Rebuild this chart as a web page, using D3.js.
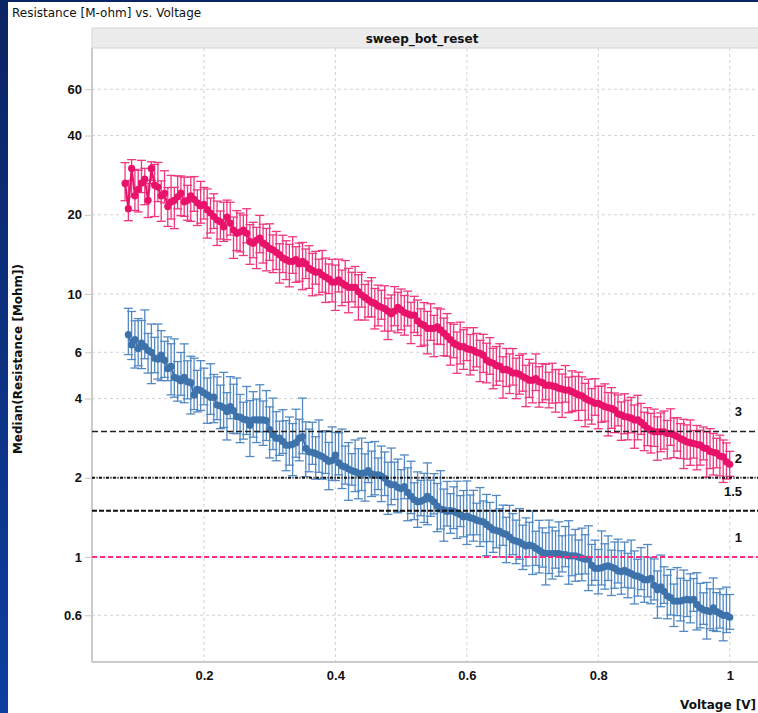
<!DOCTYPE html>
<html>
<head>
<meta charset="utf-8">
<script src="https://cdn.jsdelivr.net/npm/d3@7"></script>
<style>
  html, body { margin: 0; padding: 0; background: #fff; }
  svg { display: block; font-family: "Liberation Sans", Arial, sans-serif; }
</style>
</head>
<body>
<svg id="chart" width="758" height="713"></svg>
<script>
// sweep voltages [V]
const voltage = [
  0.08,0.085,0.09,0.095,0.1,0.105,0.11,0.115,0.12,0.125,
  0.13,0.135,0.14,0.145,0.15,0.155,0.16,0.165,0.17,0.175,
  0.18,0.185,0.19,0.195,0.2,0.205,0.21,0.215,0.22,0.225,
  0.23,0.235,0.24,0.245,0.25,0.255,0.26,0.265,0.27,0.275,
  0.28,0.285,0.29,0.295,0.3,0.305,0.31,0.315,0.32,0.325,
  0.33,0.335,0.34,0.345,0.35,0.355,0.36,0.365,0.37,0.375,
  0.38,0.385,0.39,0.395,0.4,0.405,0.41,0.415,0.42,0.425,
  0.43,0.435,0.44,0.445,0.45,0.455,0.46,0.465,0.47,0.475,
  0.48,0.485,0.49,0.495,0.5,0.505,0.51,0.515,0.52,0.525,
  0.53,0.535,0.54,0.545,0.55,0.555,0.56,0.565,0.57,0.575,
  0.58,0.585,0.59,0.595,0.6,0.605,0.61,0.615,0.62,0.625,
  0.63,0.635,0.64,0.645,0.65,0.655,0.66,0.665,0.67,0.675,
  0.68,0.685,0.69,0.695,0.7,0.705,0.71,0.715,0.72,0.725,
  0.73,0.735,0.74,0.745,0.75,0.755,0.76,0.765,0.77,0.775,
  0.78,0.785,0.79,0.795,0.8,0.805,0.81,0.815,0.82,0.825,
  0.83,0.835,0.84,0.845,0.85,0.855,0.86,0.865,0.87,0.875,
  0.88,0.885,0.89,0.895,0.9,0.905,0.91,0.915,0.92,0.925,
  0.93,0.935,0.94,0.945,0.95,0.955,0.96,0.965,0.97,0.975,
  0.98,0.985,0.99,0.995,1.0
];

// upper curve (pink), median resistance [Mohm], one per voltage
const highMedian = [
  26.3,21.1,30.0,23.6,25.0,26.4,27.3,22.7,30.0,25.9,
  25.5,23.6,24.1,21.5,22.4,22.7,23.4,24.2,22.4,22.7,
  23.6,22.9,22.2,21.6,
  21.9,20.9,20.3,19.7,19.1,18.8,18.0,19.6,18.6,17.5,
  17.0,17.2,17.5,17.0,15.8,15.6,16.0,16.3,15.6,15.3,
  14.9,14.7,14.4,14.1,13.7,13.5,13.3,13.3,13.5,13.0,
  13.3,13.0,12.5,12.3,12.1,12.1,11.8,11.6,11.4,11.1,
  11.1,11.3,11.0,10.8,10.6,10.6,10.6,10.2,9.9,9.7,
  9.5,9.3,9.2,9.0,8.9,8.8,8.6,8.4,8.6,8.9,
  8.7,8.5,8.4,8.3,8.3,7.9,7.7,7.6,7.4,7.4,
  7.4,7.5,7.3,7.1,6.9,6.7,6.5,6.4,6.3,6.3,
  6.2,6.15,6.1,6.0,5.95,5.85,5.6,5.5,5.45,5.35,
  5.3,5.15,5.17,5.1,5.0,5.0,4.95,4.85,4.78,4.7,
  4.7,4.77,4.64,4.6,4.5,4.5,4.47,4.44,4.38,4.35,
  4.31,4.31,4.25,4.19,4.13,4.1,4.01,3.95,3.9,3.84,
  3.84,3.78,3.73,3.7,3.67,3.62,3.5,3.47,3.42,3.4,
  3.37,3.32,3.32,3.25,3.17,3.08,3.03,2.99,2.99,2.99,
  2.99,2.95,2.95,2.91,2.87,2.82,2.78,2.74,2.72,2.70,
  2.68,2.66,2.6,2.58,2.52,2.50,2.48,2.42,2.40,2.30,2.25
];
// error bar extent above / below the median, in percent
const highErrUp = [
  20,28,8,26,18,22,10,16,6,20, 24,14,22,18,26,12,20,16,24,14,
  18,22,12,24,16,20,14,22,18,10, 24,16,20,12,22,18,14,24,16,20,
  12,22,18,16,24,14,20,10,22,18, 16,24,12,20,18,14,22,16,20,12,
  24,18,14,22,16,20,12,24,18,14, 20,16,22,12,18,24,14,20,16,22,
  12,18,24,14,20,16,22,12,18,20, 14,22,16,24,12,18,20,14,22,16,
  18,12,24,16,20,14,22,18,12,20, 16,24,14,18,22,12,20,16,24,14,
  18,22,12,20,16,24,14,18,20,12, 22,16,18,14,24,12,20,16,22,18,
  14,20,12,24,16,18,22,14,20,16, 18,12,22,16,20,14,24,18,12,20,
  16,22,14,18,20,12,24,16,18,14, 20,16,22,12,18,14,20,16,22,18,
  14,20,16,18,12
];
const highErrDn = [
  14,10,22,12,18,8,20,14,10,24, 12,20,8,16,14,22,10,18,12,16,
  20,10,18,14,12,22,16,10,20,14, 12,18,10,22,14,16,20,8,18,12,
  22,12,16,20,10,18,14,22,12,16, 20,10,18,14,22,12,16,20,10,18,
  14,20,12,16,22,10,18,14,20,12, 16,22,10,18,14,12,20,16,10,18,
  22,14,12,20,16,18,10,22,14,12, 18,16,20,10,22,14,12,18,16,20,
  12,22,14,18,10,20,16,12,22,14, 18,10,20,16,12,22,14,18,10,20,
  16,12,22,14,18,10,20,16,12,18, 14,20,12,22,10,18,16,14,20,12,
  22,16,18,10,20,14,12,22,16,18, 10,20,14,18,12,22,16,10,20,14,
  18,12,22,16,14,20,10,18,12,16, 22,14,18,12,20,16,10,22,14,18,
  12,16,20,14,10
];

// lower curve (blue), starts at the second voltage (0.085 V)
const lowMedian = [
  7.0,6.4,6.7,6.2,6.5,6.3,6.1,6.0,5.7,5.65,
  5.85,5.6,5.2,5.3,4.82,4.77,4.68,4.82,4.64,4.6,
  4.13,4.34,4.29,4.21,4.13,4.05,4.05,3.78,3.75,3.7,
  3.57,3.73,3.6,3.42,3.4,3.34,3.32,3.17,3.32,3.32,
  3.32,3.32,3.30,3.05,2.91,2.83,2.83,2.75,2.66,2.66,
  2.68,2.72,2.83,2.87,2.59,2.51,2.50,2.47,2.44,2.41,
  2.36,2.31,2.33,2.44,2.28,2.22,2.20,2.16,2.13,2.11,
  2.08,2.08,2.09,2.13,2.07,2.05,2.05,2.03,1.99,1.91,
  1.88,1.88,1.84,1.82,1.85,1.76,1.70,1.65,1.62,1.63,
  1.65,1.70,1.66,1.62,1.56,1.52,1.51,1.49,1.50,1.49,
  1.47,1.45,1.42,1.43,1.41,1.40,1.38,1.37,1.36,1.33,
  1.30,1.27,1.26,1.25,1.23,1.22,1.19,1.16,1.15,1.14,
  1.12,1.10,1.11,1.10,1.08,1.06,1.04,1.03,1.03,1.03,
  1.03,1.03,1.02,1.02,1.01,1.01,1.01,1.00,0.99,0.98,
  0.98,0.93,0.905,0.905,0.91,0.92,0.925,0.915,0.905,0.885,
  0.88,0.89,0.875,0.865,0.85,0.845,0.835,0.82,0.82,0.83,
  0.78,0.75,0.77,0.74,0.71,0.70,0.68,0.68,0.68,0.686,
  0.69,0.685,0.69,0.66,0.64,0.63,0.625,0.62,0.64,0.62,
  0.61,0.60,0.60,0.59
];
const lowErrUp = [
  26,34,18,30,22,38,16,28,20,36, 24,18,32,22,40,16,28,34,20,26,
  38,18,30,24,16,34,22,28,20,36, 18,30,26,40,22,16,34,24,28,20,
  36,18,30,22,38,26,16,32,24,28, 20,34,18,40,26,22,30,16,36,24,
  28,18,34,22,30,38,20,26,16,32, 24,36,18,28,22,34,16,30,26,20,
  38,22,28,18,32,24,36,16,30,20, 26,34,18,28,22,40,20,30,16,24,
  32,18,26,36,22,28,16,34,20,30, 24,18,36,22,28,16,32,26,20,34,
  18,28,22,36,16,30,24,20,34,26, 22,32,18,28,36,20,26,16,30,24,
  34,20,28,18,38,22,30,16,26,32, 20,28,18,34,24,16,30,22,36,20,
  26,18,32,24,20,28,16,34,22,30, 18,26,20,32,24,16,28,22,30,18,
  24,20,28,22
];
const lowErrDn = [
  16,12,22,14,20,10,18,24,12,16, 20,14,10,22,16,18,12,20,14,24,
  12,18,16,10,22,14,20,12,18,16, 22,10,18,14,20,16,12,24,14,18,
  10,20,16,22,12,18,14,10,20,16, 24,12,18,14,22,16,10,20,14,18,
  12,22,16,20,10,18,14,24,12,16, 20,14,22,10,18,16,12,20,14,24,
  16,12,20,18,10,22,14,16,20,12, 18,22,14,10,20,16,24,12,18,14,
  20,10,16,22,14,18,12,20,16,24, 12,18,14,20,10,22,16,12,18,14,
  20,16,10,22,14,18,12,24,16,20, 12,18,14,10,22,16,20,14,18,12,
  24,16,10,20,14,18,12,22,16,10, 18,14,20,12,22,16,10,18,14,20,
  12,22,16,10,18,14,20,12,16,24, 14,18,10,20,16,12,22,14,18,16,
  12,20,14,10
];

const xTicks = [0.2, 0.4, 0.6, 0.8, 1];
const yTicks = [0.6, 1, 2, 4, 6, 10, 20, 40, 60];
const refLevels = [3, 2, 1.5, 1];
const refLabels = ['3', '2', '1.5', '1'];

function renderChart() {
  const svg = d3.select('#chart');
  const width = 758, height = 713;
  const margin = {top: 48, right: 0, bottom: 51, left: 92};
  const chartWidth = width - margin.left - margin.right;
  const chartHeight = height - margin.top - margin.bottom;
  const wide = '"DejaVu Sans", Verdana, sans-serif';

  // window frame: blue strip on the left, dark line on top
  const grad = svg.append('defs').append('linearGradient')
    .attr('id', 'frame').attr('x1', 0).attr('y1', 0).attr('x2', 0).attr('y2', 1);
  grad.append('stop').attr('offset', '0%').attr('stop-color', '#0b2463');
  grad.append('stop').attr('offset', '100%').attr('stop-color', '#0d3fa0');
  svg.append('rect').attr('width', width).attr('height', height).attr('fill', '#fff');
  svg.append('rect').attr('x', 0).attr('y', 0).attr('width', 8).attr('height', height).attr('fill', 'url(#frame)');
  svg.append('rect').attr('x', 0).attr('y', 0).attr('width', width).attr('height', 2).attr('fill', '#0b2463');

  svg.append('text')
    .attr('x', 12).attr('y', 17)
    .attr('font-family', wide).attr('font-size', '12px').attr('fill', '#111')
    .text('Resistance [M-ohm] vs. Voltage');

  // trellis header
  svg.append('rect')
    .attr('x', margin.left).attr('y', 28).attr('width', chartWidth + 2).attr('height', 20)
    .attr('fill', '#ececec').attr('stroke', '#d4d4d4');
  svg.append('text')
    .attr('x', 422).attr('y', 43)
    .attr('text-anchor', 'middle').attr('font-family', wide).attr('font-size', '12px')
    .attr('font-weight', 'bold').attr('fill', '#111')
    .text('sweep_bot_reset');

  const x = d3.scaleLinear().domain([0.0297, 1.043]).range([0, chartWidth]);
  const y = d3.scaleLog().domain([0.3987, 86.1]).range([chartHeight, 0]);

  const g = svg.append('g').attr('transform', `translate(${margin.left},${margin.top})`);

  // grid lines
  g.append('g').selectAll('line').data(xTicks).enter().append('line')
    .attr('x1', d => x(d)).attr('x2', d => x(d)).attr('y1', 0).attr('y2', chartHeight)
    .attr('stroke', '#d2d2d2').attr('stroke-dasharray', '3,3');
  g.append('g').selectAll('line').data(yTicks).enter().append('line')
    .attr('x1', 0).attr('x2', chartWidth).attr('y1', d => y(d)).attr('y2', d => y(d))
    .attr('stroke', '#d2d2d2').attr('stroke-dasharray', '3,3');

  // axes
  const yAxis = g.append('g')
    .call(d3.axisLeft(y).tickValues(yTicks).tickSize(7).tickPadding(3).tickFormat(d3.format('~g')));
  const xAxis = g.append('g')
    .attr('transform', `translate(0,${chartHeight})`)
    .call(d3.axisBottom(x).tickValues(xTicks).tickSize(0).tickPadding(9).tickFormat(d3.format('~g')));
  [yAxis, xAxis].forEach(a => {
    a.select('.domain').remove();
    a.selectAll('line').attr('stroke', '#c8c8c8');
    a.selectAll('text').attr('font-size', '13px').attr('font-weight', 'bold').attr('fill', '#111')
      .attr('font-family', '"Liberation Sans", Arial, sans-serif');
  });
  g.append('line').attr('x1', 0).attr('x2', 0).attr('y1', 0).attr('y2', chartHeight)
    .attr('stroke', '#cacaca').attr('stroke-width', 2);
  g.append('line').attr('x1', 0).attr('x2', chartWidth).attr('y1', chartHeight).attr('y2', chartHeight)
    .attr('stroke', '#cacaca').attr('stroke-width', 2);

  svg.append('text')
    .attr('transform', 'translate(22,359) rotate(-90)')
    .attr('text-anchor', 'middle').attr('font-family', wide).attr('font-size', '12px')
    .attr('font-weight', 'bold').attr('fill', '#111')
    .text('Median(Resistance [Mohm])');
  svg.append('text')
    .attr('x', 756).attr('y', 709)
    .attr('text-anchor', 'end').attr('font-family', wide).attr('font-size', '12px')
    .attr('font-weight', 'bold').attr('fill', '#111')
    .text('Voltage [V]');

  const series = [
    {name: 'high', v: voltage, m: highMedian, up: highErrUp, dn: highErrDn,
     color: '#e8126b', bar: '#f0367f'},
    {name: 'low', v: voltage.slice(1), m: lowMedian, up: lowErrUp, dn: lowErrDn,
     color: '#3e72ab', bar: '#5289c3'}
  ];

  const line = d3.line().x(d => x(d.v)).y(d => y(d.m));

  series.forEach(s => {
    const pts = s.m.map((m, i) => ({
      v: s.v[i], m: m, hi: m * (1 + s.up[i] / 100), lo: m * (1 - s.dn[i] / 100)
    }));
    const sg = g.append('g').attr('class', 'series-' + s.name);

    // error bars
    const eb = sg.append('g').attr('stroke', s.bar).attr('stroke-width', 1.3);
    eb.selectAll('.stem').data(pts).enter().append('line')
      .attr('x1', d => x(d.v)).attr('x2', d => x(d.v))
      .attr('y1', d => y(d.hi)).attr('y2', d => y(d.lo));
    eb.selectAll('.capt').data(pts).enter().append('line')
      .attr('x1', d => x(d.v) - 4.5).attr('x2', d => x(d.v) + 4.5)
      .attr('y1', d => y(d.hi)).attr('y2', d => y(d.hi));
    eb.selectAll('.capb').data(pts).enter().append('line')
      .attr('x1', d => x(d.v) - 4.5).attr('x2', d => x(d.v) + 4.5)
      .attr('y1', d => y(d.lo)).attr('y2', d => y(d.lo));

    sg.append('path').datum(pts)
      .attr('d', line).attr('fill', 'none').attr('stroke', s.color).attr('stroke-width', 2);
    sg.selectAll('circle').data(pts).enter().append('circle')
      .attr('cx', d => x(d.v)).attr('cy', d => y(d.m)).attr('r', 3.6)
      .attr('fill', s.color);
  });

  // reference lines
  const refStroke = ['#222', '#111', '#111', '#ff2f80'];
  const refDash = ['6,3', '3,1.5,1,1.5', '5,2', '5,3'];
  const refWidth = [1.5, 2, 2, 2];
  const ref = g.append('g');
  ref.selectAll('line').data(refLevels).enter().append('line')
    .attr('x1', 0).attr('x2', chartWidth)
    .attr('y1', d => y(d)).attr('y2', d => y(d))
    .attr('stroke', (d, i) => refStroke[i])
    .attr('stroke-dasharray', (d, i) => refDash[i])
    .attr('stroke-width', (d, i) => refWidth[i]);
  ref.selectAll('text').data(refLevels).enter().append('text')
    .attr('x', 742 - margin.left).attr('y', d => y(d) - 15)
    .attr('text-anchor', 'end').attr('font-size', '13px').attr('font-weight', 'bold').attr('fill', '#111')
    .text((d, i) => refLabels[i]);
}

renderChart();
</script>
</body>
</html>
